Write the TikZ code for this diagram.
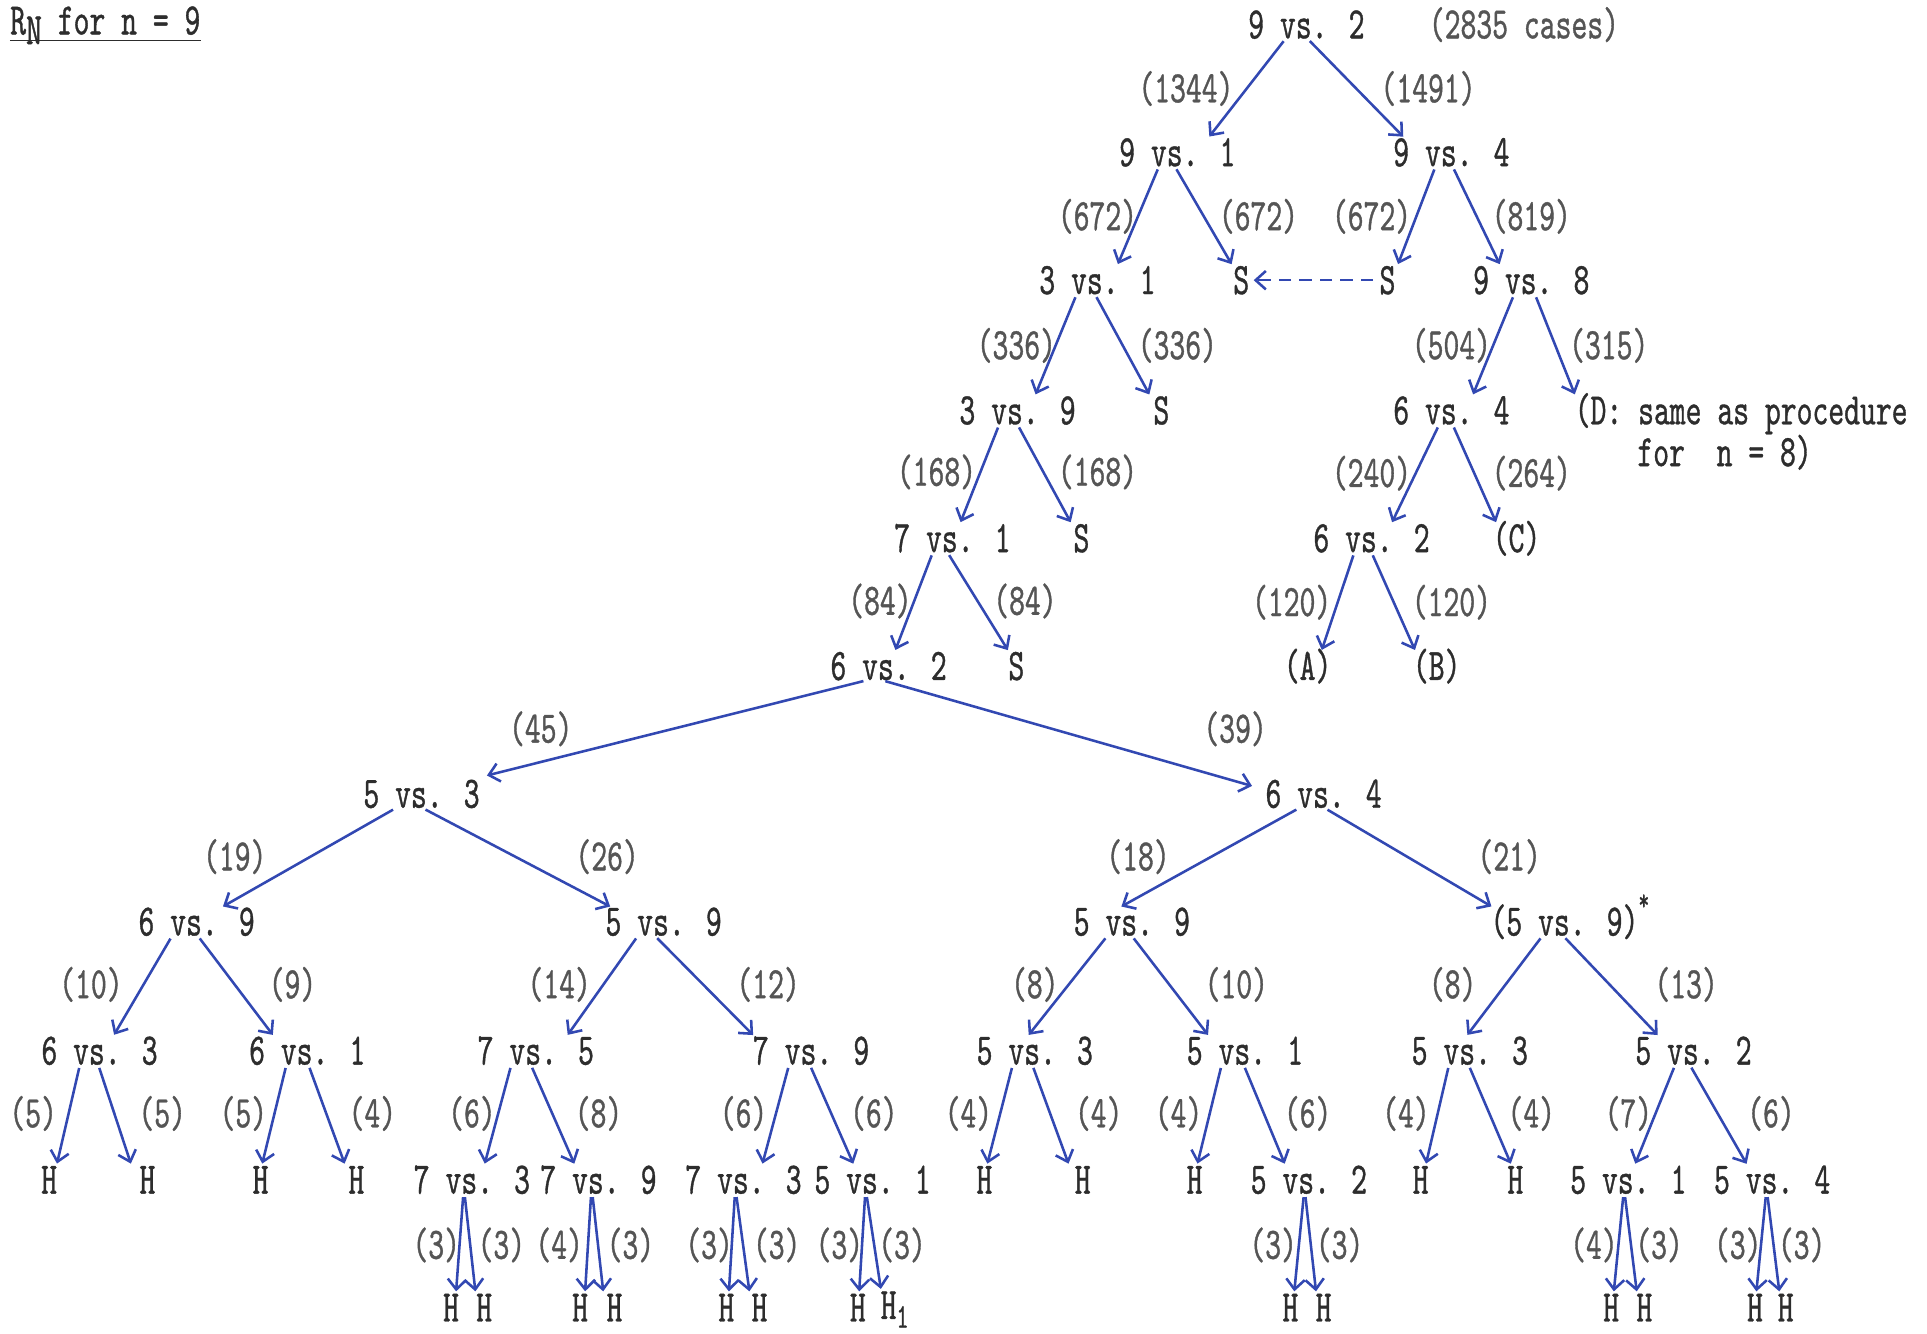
\documentclass[tikz,border=0pt]{standalone}
\usepackage{fontspec}
\setmainfont{lmmono10-regular.otf}[FakeStretch=0.67,FakeBold=0.8]
\usetikzlibrary{arrows.meta,calc}
\definecolor{ink}{RGB}{45,45,45}
\definecolor{lbl}{RGB}{85,85,85}
\definecolor{pen}{RGB}{50,72,178}
\newcommand\ed[4]{\draw[arr] (#2,0 |- #1.south) -- (#4,0 |- #3.north);}
\begin{document}
\begin{tikzpicture}[x=0.6pt,y=-0.6pt,
  every node/.style={font=\fontsize{22}{26}\selectfont},
  nd/.style={inner sep=0pt,text height=13.5pt,text depth=0pt,text=ink},
  lb/.style={nd,text=lbl},
  arr/.style={draw=pen,line width=1.25pt,-{Straight Barb[length=5pt,width=9pt]},shorten <=1.5pt,shorten >=1pt},
]
\useasboundingbox (0,0) rectangle (1568,1085);
% title
\node[anchor=base west,inner sep=0pt,text=ink] (title) at (8,28) {R\raisebox{-0.5ex}{N} for n = 9};
\draw[ink,line width=0.8pt] ($(title.base west)+(0,5)$) -- ($(title.base east)+(0,5)$);
% level 0
\node[nd] (n0) at (1063,20) {9 vs. 2};
\node[lb] (cases) at (1240,20) {(2835 cases)};
\node[lb] (l1a) at (965,72) {(1344)};
\node[lb] (l1b) at (1162,72) {(1491)};
% level 1
\node[nd] (n1a) at (958,124) {9 vs. 1};
\node[nd] (n1b) at (1181,124) {9 vs. 4};
\node[lb] (l2a) at (893,176) {(672)};
\node[lb] (l2b) at (1024,176) {(672)};
\node[lb] (l2c) at (1116,176) {(672)};
\node[lb] (l2d) at (1246,176) {(819)};
% level 2
\node[nd] (n2a) at (893,228) {3 vs. 1};
\node[nd] (s2a) at (1010,228) {S};
\node[nd] (s2b) at (1129,228) {S};
\node[nd] (n2b) at (1246,228) {9 vs. 8};
\node[lb] (l3a) at (827,281) {(336)};
\node[lb] (l3b) at (958,281) {(336)};
\node[lb] (l3c) at (1181,281) {(504)};
\node[lb] (l3d) at (1309,281) {(315)};
% level 3
\node[nd] (n3a) at (828,334) {3 vs. 9};
\node[nd] (s3a) at (945,334) {S};
\node[nd] (n3b) at (1181,334) {6 vs. 4};
\node[nd,anchor=west] (dA) at (1281,334) {(D: same as procedure};
\node[nd,anchor=west] (dB) at (1332,368) {for~~n = 8)};
\node[lb] (l4a) at (762,384) {(168)};
\node[lb] (l4b) at (893,384) {(168)};
\node[lb] (l4c) at (1116,385) {(240)};
\node[lb] (l4d) at (1246,385) {(264)};
% level 4
\node[nd] (n4a) at (775,438) {7 vs. 1};
\node[nd] (s4a) at (880,438) {S};
\node[nd] (n4b) at (1116,438) {6 vs. 2};
\node[nd] (C) at (1234,438) {(C)};
\node[lb] (l5a) at (716,489) {(84)};
\node[lb] (l5b) at (834,489) {(84)};
\node[lb] (l5c) at (1051,490) {(120)};
\node[lb] (l5d) at (1181,490) {(120)};
% level 5
\node[nd] (n5a) at (723,542) {6 vs. 2};
\node[nd] (s5a) at (827,542) {S};
\node[nd] (A) at (1064,542) {(A)};
\node[nd] (B) at (1169,542) {(B)};
\node[lb] (l6a) at (440,593) {(45)};
\node[lb] (l6b) at (1005,593) {(39)};
% level 6
\node[nd] (n6a) at (343,646) {5 vs. 3};
\node[nd] (n6b) at (1077,646) {6 vs. 4};
\node[lb] (l7a) at (191,697) {(19)};
\node[lb] (l7b) at (494,697) {(26)};
\node[lb] (l7c) at (926,697) {(18)};
\node[lb] (l7d) at (1228,697) {(21)};
% level 7
\node[nd] (n7a) at (160,750) {6 vs. 9};
\node[nd] (n7b) at (540,750) {5 vs. 9};
\node[nd] (n7c) at (921,750) {5 vs. 9};
\node[nd] (n7d) at (1273,750) {(5 vs. 9)\rlap{\raisebox{1.3ex}{\fontsize{15}{15}\selectfont *}}};
\node[lb] (l8a) at (74,801) {(10)};
\node[lb] (l8b) at (238,801) {(9)};
\node[lb] (l8c) at (455,801) {(14)};
\node[lb] (l8d) at (625,801) {(12)};
\node[lb] (l8e) at (842,801) {(8)};
\node[lb] (l8f) at (1006,801) {(10)};
\node[lb] (l8g) at (1182,801) {(8)};
\node[lb] (l8h) at (1372,801) {(13)};
% level 8
\node[nd] (n8a) at (81,855) {6 vs. 3};
\node[nd] (n8b) at (250,855) {6 vs. 1};
\node[nd] (n8c) at (436,855) {7 vs. 5};
\node[nd] (n8d) at (660,855) {7 vs. 9};
\node[nd] (n8e) at (842,855) {5 vs. 3};
\node[nd] (n8f) at (1013,855) {5 vs. 1};
\node[nd] (n8g) at (1196,855) {5 vs. 3};
\node[nd] (n8h) at (1378,855) {5 vs. 2};
\foreach \nm/\x/\t in {a/27/5,b/132/5,c/198/5,d/303/4,e/384/6,f/487/8,g/605/6,h/711/6,i/788/4,j/894/4,k/959/4,l/1064/6,m/1144/4,n/1246/4,o/1325/7,p/1441/6}
  \node[lb] (l9\nm) at (\x,906) {(\t)};
% level 9
\node[nd] (h1) at (40,960) {H};
\node[nd] (h2) at (120,960) {H};
\node[nd] (h3) at (212,960) {H};
\node[nd] (h4) at (290,960) {H};
\node[nd] (n9a) at (384,960) {7 vs. 3};
\node[nd] (n9b) at (487,960) {7 vs. 9};
\node[nd] (n9c) at (605,960) {7 vs. 3};
\node[nd] (n9d) at (710,960) {5 vs. 1};
\node[nd] (h5) at (801,960) {H};
\node[nd] (h6) at (881,960) {H};
\node[nd] (h7) at (972,960) {H};
\node[nd] (n9e) at (1065,960) {5 vs. 2};
\node[nd] (h8) at (1156,960) {H};
\node[nd] (h9) at (1233,960) {H};
\node[nd] (n9f) at (1325,960) {5 vs. 1};
\node[nd] (n9g) at (1442,960) {5 vs. 4};
\foreach \nm/\x/\t in {a/355/3,b/408/3,c/455/4,d/513/3,e/577/3,f/632/3,g/683/3,h/734/3,i/1036/3,j/1090/3,k/1297/4,l/1350/3,m/1414/3,n/1466/3}
  \node[lb] (l10\nm) at (\x,1013) {(\t)};
% level 10
\foreach \nm/\x in {a/367,b/394,c/472,d/500,e/591,f/618,g/698,i/1050,j/1077,k/1311,l/1338,m/1428,n/1453}
  \node[nd] (k\nm) at (\x,1064) {H};
\node[nd] (kh) at (723,1062) {H\rlap{\raisebox{-0.45ex}{\fontsize{17}{17}\selectfont 1}}};
% edges
\ed{n0}{1046}{n1a}{983}
\ed{n0}{1064}{n1b}{1143}
\ed{n1a}{943}{n2a}{909}
\ed{n1a}{956}{s2a}{1003}
\ed{n1b}{1168}{s2b}{1137}
\ed{n1b}{1182}{n2b}{1221}
\draw[arr,dash pattern=on 6pt off 4pt,shorten <=3pt,shorten >=2pt] (s2b.west) -- (s2a.east);
\ed{n2a}{876}{n3a}{842}
\ed{n2a}{891}{s3a}{936}
\ed{n2b}{1232}{n3b}{1198}
\ed{n2b}{1249}{dA}{1282}
\ed{n3a}{813}{n4a}{781}
\ed{n3a}{828}{s4a}{872}
\ed{n3b}{1171}{n4b}{1132}
\ed{n3b}{1182}{C}{1218}
\ed{n4a}{759}{n5a}{728}
\ed{n4a}{771}{s5a}{821}
\ed{n4b}{1102}{A}{1075}
\ed{n4b}{1116}{B}{1152}
\draw[arr] (705,0 |- n5a.south) -- ($(n6a.north east)+(4,-3)$);
\draw[arr] (718,0 |- n5a.south) -- ($(n6b.west)+(-9,-6)$);
\ed{n6a}{322}{n7a}{180}
\ed{n6a}{344}{n7b}{498}
\ed{n6b}{1057}{n7c}{911}
\ed{n6b}{1078}{n7d}{1215}
\ed{n7a}{140}{n8a}{92}
\ed{n7a}{161}{n8b}{223}
\ed{n7b}{519}{n8c}{461}
\ed{n7b}{533}{n8d}{614}
\ed{n7c}{901}{n8e}{836}
\ed{n7c}{921}{n8f}{984}
\ed{n7d}{1255}{n8g}{1193}
\ed{n7d}{1272}{n8h}{1350}
\ed{n8a}{65}{h1}{46}
\ed{n8a}{80}{h2}{107}
\ed{n8b}{233}{h3}{213}
\ed{n8b}{251}{h4}{281}
\ed{n8c}{416}{n9a}{394}
\ed{n8c}{432}{n9b}{468}
\ed{n8d}{642}{n9c}{620}
\ed{n8d}{659}{n9d}{695}
\ed{n8e}{824}{h5}{803}
\ed{n8e}{840}{h6}{870}
\ed{n8f}{994}{h7}{974}
\ed{n8f}{1012}{n9e}{1046}
\ed{n8g}{1179}{h8}{1160}
\ed{n8g}{1195}{h9}{1230}
\ed{n8h}{1363}{n9f}{1330}
\ed{n8h}{1375}{n9g}{1422}
\ed{n9a}{377}{ka}{371}
\ed{n9a}{378}{kb}{387}
\ed{n9b}{481}{kc}{476}
\ed{n9b}{482}{kd}{491}
\ed{n9c}{598}{ke}{593}
\ed{n9c}{599}{kf}{610}
\ed{n9d}{704}{kg}{699}
\ed{n9d}{705}{kh}{717}
\ed{n9e}{1061}{ki}{1053}
\ed{n9e}{1062}{kj}{1071}
\ed{n9f}{1321}{kk}{1313}
\ed{n9f}{1322}{kl}{1332}
\ed{n9g}{1437}{km}{1429}
\ed{n9g}{1438}{kn}{1448}
\end{tikzpicture}
\end{document}
